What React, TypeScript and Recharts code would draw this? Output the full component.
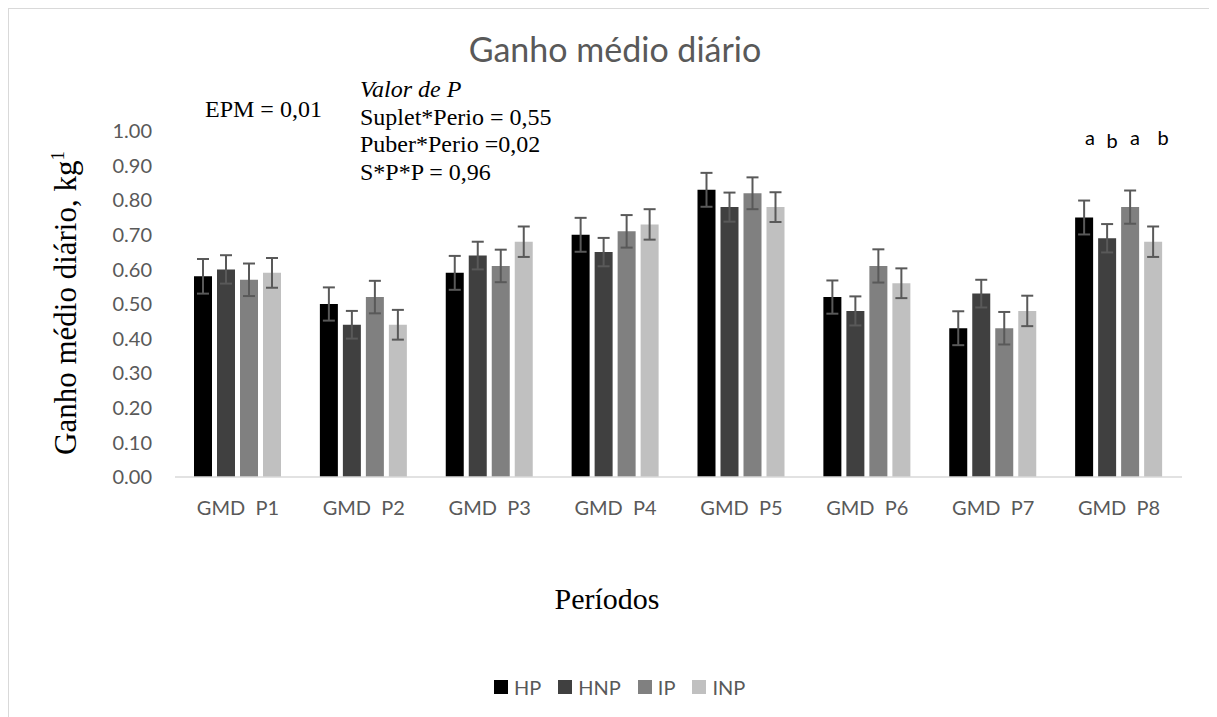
import { BarChart, Bar, XAxis, YAxis, Legend, ErrorBar } from "recharts";

// períodos
const periods = ["GMD\u00a0\u00a0P1", "GMD\u00a0\u00a0P2", "GMD\u00a0\u00a0P3", "GMD\u00a0\u00a0P4", "GMD\u00a0\u00a0P5", "GMD\u00a0\u00a0P6", "GMD\u00a0\u00a0P7", "GMD\u00a0\u00a0P8"];

const hp = [0.58, 0.5, 0.59, 0.7, 0.83, 0.52, 0.43, 0.75];
const hnp = [0.6, 0.44, 0.64, 0.65, 0.78, 0.48, 0.53, 0.69];
const ip = [0.57, 0.52, 0.61, 0.71, 0.82, 0.61, 0.43, 0.78];
const inp = [0.59, 0.44, 0.68, 0.73, 0.78, 0.56, 0.48, 0.68];

const hpErr = [0.05, 0.048, 0.049, 0.049, 0.049, 0.048, 0.049, 0.049];
const hnpErr = [0.041, 0.04, 0.04, 0.041, 0.042, 0.042, 0.04, 0.041];
const ipErr = [0.047, 0.047, 0.047, 0.047, 0.046, 0.048, 0.047, 0.048];
const inpErr = [0.043, 0.043, 0.044, 0.044, 0.043, 0.043, 0.044, 0.044];

const yTicks = [0, 0.1, 0.2, 0.3, 0.4, 0.5, 0.6, 0.7, 0.8, 0.9, 1.0];

const series = [
  { key: "HP", err: "HPe", color: "#000000" },
  { key: "HNP", err: "HNPe", color: "#404040" },
  { key: "IP", err: "IPe", color: "#808080" },
  { key: "INP", err: "INPe", color: "#c0c0c0" },
];

const data = periods.map((p, i) => ({
  name: p,
  HP: hp[i],
  HNP: hnp[i],
  IP: ip[i],
  INP: inp[i],
  HPe: hpErr[i],
  HNPe: hnpErr[i],
  IPe: ipErr[i],
  INPe: inpErr[i],
}));

const sans = "Lato, 'Open Sans', sans-serif";
const serif = "'Liberation Serif', 'Times New Roman', serif";
const grey = "#595959";

function LegendBox() {
  return (
    <div style={{ display: "flex", alignItems: "center", paddingLeft: 485, height: 24 }}>
      {series.map((s) => (
        <div key={s.key} style={{ display: "flex", alignItems: "center", marginRight: 17 }}>
          <span style={{ width: 14, height: 14, background: s.color, display: "inline-block", marginRight: 6 }} />
          <span style={{ fontFamily: sans, fontSize: 20, color: grey, lineHeight: "24px" }}>{s.key}</span>
        </div>
      ))}
    </div>
  );
}

function YLabel(props: any) {
  const vb = props.viewBox;
  const cx = 67;
  const cy = vb.y + vb.height / 2 - 1;
  return (
    <text x={cx} y={cy} transform={`rotate(-90 ${cx} ${cy})`} textAnchor="middle" fontFamily={serif} fontSize={31} fill="#000">
      Ganho médio diário, kg
      <tspan fontSize={19} dy={-12}>1</tspan>
    </text>
  );
}

export default function App() {
  return (
    <div style={{ position: "relative", width: 1230, height: 720, borderLeft: "1px solid #d9d9d9", borderTop: "1px solid #d9d9d9", background: "#fff" }}>
      <style>{`html, body { overflow: hidden; }`}</style>
      <BarChart
        width={1208}
        height={700}
        data={data}
        margin={{ top: 122, right: 35, left: 0, bottom: 178 }}
        barSize={18}
        barGap={5}
      >
        <XAxis
          dataKey="name"
          tickLine={false}
          axisLine={{ stroke: "#d9d9d9", strokeWidth: 1.5 }}
          tick={{ fontFamily: sans, fontSize: 20, fill: grey }}
          tickMargin={18}
          height={30}
        />
        <YAxis
          domain={[0, 1]}
          ticks={yTicks}
          interval={0}
          width={166}
          axisLine={false}
          tickLine={false}
          tickSize={0}
          tickMargin={23}
          tickFormatter={(v: number) => v.toFixed(2)}
          tick={{ fontFamily: sans, fontSize: 20, fill: grey }}
          label={<YLabel />}
        />
        <Legend
          content={<LegendBox />}
          verticalAlign="bottom"
          wrapperStyle={{ top: 666, bottom: "auto", left: 0, width: 1208, height: 24 }}
        />
        {series.map((s) => (
          <Bar key={s.key} dataKey={s.key} fill={s.color} isAnimationActive={false}>
            <ErrorBar dataKey={s.err} width={6} stroke={grey} strokeWidth={2} direction="y" />
          </Bar>
        ))}
      </BarChart>
      <svg width={1208} height={700} style={{ position: "absolute", left: 0, top: 0, pointerEvents: "none" }}>
        <text x={606} y={53} textAnchor="middle" fontFamily={sans} fontSize={34} fill={grey}>
          Ganho médio diário
        </text>
        <text x={196} y={108} fontFamily={serif} fontSize={24} fill="#000">EPM = 0,01</text>
        <text x={351} y={88} fontFamily={serif} fontSize={24} fontStyle="italic" fill="#000">Valor de P</text>
        <text x={351} y={116} fontFamily={serif} fontSize={24} fill="#000">Suplet*Perio = 0,55</text>
        <text x={351} y={143} fontFamily={serif} fontSize={24} fill="#000">Puber*Perio =0,02</text>
        <text x={351} y={171} fontFamily={serif} fontSize={24} fill="#000">S*P*P = 0,96</text>
        <text x={1081} y={136} textAnchor="middle" fontFamily={sans} fontSize={20} fill="#000">a</text>
        <text x={1103} y={139} textAnchor="middle" fontFamily={sans} fontSize={20} fill="#000">b</text>
        <text x={1126} y={136} textAnchor="middle" fontFamily={sans} fontSize={20} fill="#000">a</text>
        <text x={1154} y={136} textAnchor="middle" fontFamily={sans} fontSize={20} fill="#000">b</text>
        <text x={598} y={600} textAnchor="middle" fontFamily={serif} fontSize={30} fill="#000">Períodos</text>
      </svg>
    </div>
  );
}
